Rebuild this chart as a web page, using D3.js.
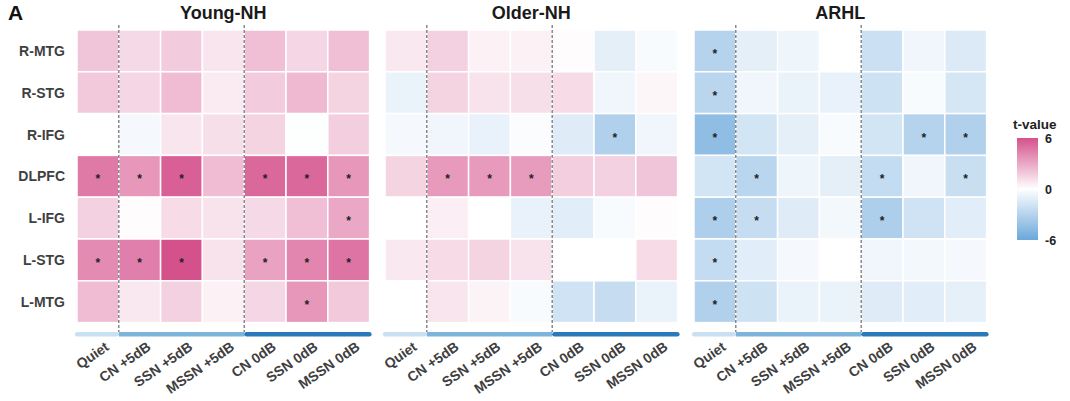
<!DOCTYPE html>
<html lang="en">
<head>
    <meta charset="UTF-8">
    <title>t-value heatmaps</title>
    <script src="https://d3js.org/d3.v7.min.js"></script>
    <style>
        body { margin: 0; background: #fff; }
        text { font-family: Arial, "Liberation Sans", Helvetica, sans-serif; }
    </style>
</head>
<body>
    <div id="chart"></div>

    <script>
        // regions (rows) and conditions (columns)
        const regions = ["R-MTG", "R-STG", "R-IFG", "DLPFC", "L-IFG", "L-STG", "L-MTG"];
        const conditions = ["Quiet", "CN +5dB", "SSN +5dB", "MSSN +5dB", "CN 0dB", "SSN 0dB", "MSSN 0dB"];
        const groups = ["Young-NH", "Older-NH", "ARHL"];

        // t-values, one row per region
        const youngNH = [
            [2.0, 1.3, 1.8, 0.9, 2.2, 1.4, 2.2],
            [1.9, 1.4, 2.3, 0.7, 1.8, 2.4, 1.5],
            [0.0, -0.4, 0.9, 1.1, 1.5, -0.1, 1.7],
            [4.6, 3.6, 5.5, 2.3, 5.2, 5.2, 3.6],
            [1.6, 0.1, 1.2, 1.0, 1.3, 2.2, 3.0],
            [4.0, 4.4, 6.0, 1.0, 3.2, 4.2, 4.8],
            [2.3, 0.8, 1.6, 0.5, 1.4, 3.6, 1.9]
        ];
        const olderNH = [
            [0.8, 1.6, 0.5, 0.5, 0.1, -1.1, -0.3],
            [-0.8, 1.5, 1.0, 1.1, 1.2, -0.6, 0.3],
            [-0.4, -0.6, -0.9, -0.2, -1.3, -3.2, -0.6],
            [1.5, 3.5, 3.5, 3.4, 1.7, 1.6, 2.0],
            [0.0, 0.6, 0.0, -0.9, -1.2, -0.3, 0.1],
            [0.8, 1.2, 1.5, 1.0, 0.0, 0.0, 1.2],
            [0.0, 0.9, 0.4, -0.3, -1.9, -2.3, -0.8]
        ];
        const arhl = [
            [-3.0, -1.1, -0.7, 0.0, -2.1, -0.6, -1.4],
            [-2.8, -0.6, -0.8, -0.9, -2.0, -0.3, -1.7],
            [-4.5, -1.8, -1.1, -0.3, -1.8, -3.0, -3.2],
            [-1.8, -2.8, -0.7, -1.1, -2.4, -0.6, -2.2],
            [-3.3, -2.3, -1.3, -0.5, -3.3, -1.9, -1.2],
            [-2.4, -1.2, -0.4, 0.0, -0.6, -0.5, -0.4],
            [-3.2, -2.0, -0.8, -0.8, -1.3, -1.2, -1.0]
        ];

        // significance marks (1 = *)
        const youngSig = [
            [0, 0, 0, 0, 0, 0, 0],
            [0, 0, 0, 0, 0, 0, 0],
            [0, 0, 0, 0, 0, 0, 0],
            [1, 1, 1, 0, 1, 1, 1],
            [0, 0, 0, 0, 0, 0, 1],
            [1, 1, 1, 0, 1, 1, 1],
            [0, 0, 0, 0, 0, 1, 0]
        ];
        const olderSig = [
            [0, 0, 0, 0, 0, 0, 0],
            [0, 0, 0, 0, 0, 0, 0],
            [0, 0, 0, 0, 0, 1, 0],
            [0, 1, 1, 1, 0, 0, 0],
            [0, 0, 0, 0, 0, 0, 0],
            [0, 0, 0, 0, 0, 0, 0],
            [0, 0, 0, 0, 0, 0, 0]
        ];
        const arhlSig = [
            [1, 0, 0, 0, 0, 0, 0],
            [1, 0, 0, 0, 0, 0, 0],
            [1, 0, 0, 0, 0, 1, 1],
            [0, 1, 0, 0, 1, 0, 1],
            [1, 1, 0, 0, 1, 0, 0],
            [1, 0, 0, 0, 0, 0, 0],
            [1, 0, 0, 0, 0, 0, 0]
        ];

        // condition blocks shown as the coloured bar under each panel
        const blocks = [
            { name: "Quiet", from: 0, to: 0, color: "#c8e0f1" },
            { name: "+5dB", from: 1, to: 3, color: "#7db4dc" },
            { name: "0dB", from: 4, to: 6, color: "#2a7aba" }
        ];
        const legendTicks = [6, 0, -6];

        const panels = [
            { title: groups[0], values: youngNH, sig: youngSig, x0: 77 },
            { title: groups[1], values: olderNH, sig: olderSig, x0: 385 },
            { title: groups[2], values: arhl, sig: arhlSig, x0: 694 }
        ];

        const width = 1070, height = 401;
        const cell = 41.8, gridTop = 30;

        const svg = d3.select("#chart")
            .append("svg")
            .attr("width", width)
            .attr("height", height);

        const color = d3.scaleLinear()
            .domain([-6, 0, 6])
            .range(["#6aa7db", "#ffffff", "#d5518c"])
            .clamp(true);

        const y = d3.scaleBand()
            .domain(regions)
            .range([gridTop, gridTop + cell * regions.length]);

        // panel label
        svg.append("text")
            .attr("x", 8)
            .attr("y", 20)
            .attr("font-size", 21)
            .attr("font-weight", "bold")
            .attr("fill", "#111")
            .text("A");

        panels.forEach((p, pi) => {
            const x = d3.scaleBand()
                .domain(conditions)
                .range([p.x0, p.x0 + cell * conditions.length]);

            const g = svg.append("g");

            // title
            g.append("text")
                .attr("x", p.x0 + cell * conditions.length / 2)
                .attr("y", 19)
                .attr("text-anchor", "middle")
                .attr("font-size", 18)
                .attr("font-weight", "bold")
                .attr("fill", "#1a1a1a")
                .text(p.title);

            const cells = [];
            p.values.forEach((row, ri) => row.forEach((v, ci) => {
                cells.push({ region: regions[ri], cond: conditions[ci], v: v, s: p.sig[ri][ci] });
            }));

            g.selectAll("rect.cell")
                .data(cells)
                .join("rect")
                .attr("class", "cell")
                .attr("x", d => x(d.cond))
                .attr("y", d => y(d.region))
                .attr("width", x.bandwidth())
                .attr("height", y.bandwidth())
                .attr("fill", d => color(d.v))
                .attr("stroke", "#fff")
                .attr("stroke-width", 1.5);

            g.selectAll("text.star")
                .data(cells.filter(d => d.s))
                .join("text")
                .attr("class", "star")
                .attr("x", d => x(d.cond) + x.bandwidth() / 2)
                .attr("y", d => y(d.region) + y.bandwidth() / 2 + 7)
                .attr("text-anchor", "middle")
                .attr("font-size", 12)
                .attr("font-weight", "bold")
                .attr("fill", "#222")
                .text("*");

            // dashed separators between blocks
            [1, 4].forEach(ci => {
                g.append("line")
                    .attr("x1", x(conditions[ci]))
                    .attr("x2", x(conditions[ci]))
                    .attr("y1", 25)
                    .attr("y2", 332)
                    .attr("stroke", "#777")
                    .attr("stroke-width", 1.3)
                    .attr("stroke-dasharray", "3,2");
            });

            // block bars
            blocks.forEach(b => {
                const bx0 = x(conditions[b.from]) - (b.from === 0 ? 2 : 0);
                const bx1 = x(conditions[b.to]) + x.bandwidth() + (b.to === 6 ? 2 : 0);
                g.append("rect")
                    .attr("x", bx0)
                    .attr("y", 332)
                    .attr("width", bx1 - bx0)
                    .attr("height", 4.5)
                    .attr("rx", b.from === 0 || b.to === 6 ? 2.2 : 0)
                    .attr("fill", b.color);
            });

            // row labels only on the first panel
            if (pi === 0) {
                g.selectAll("text.row")
                    .data(regions)
                    .join("text")
                    .attr("class", "row")
                    .attr("x", p.x0 - 12)
                    .attr("y", d => y(d) + y.bandwidth() / 2 + 5)
                    .attr("text-anchor", "end")
                    .attr("font-size", 14)
                    .attr("font-weight", "bold")
                    .attr("fill", "#3f3f3f")
                    .text(d => d);
            }

            // rotated column labels
            g.selectAll("text.col")
                .data(conditions)
                .join("text")
                .attr("class", "col")
                .attr("text-anchor", "end")
                .attr("font-size", 14)
                .attr("font-weight", "bold")
                .attr("fill", "#3f3f3f")
                .attr("transform", d => `translate(${x(d) + x.bandwidth() / 2 + 12},${349}) rotate(-35)`)
                .text(d => d);
        });

        // colour legend
        const defs = svg.append("defs");
        const grad = defs.append("linearGradient")
            .attr("id", "tgrad")
            .attr("x1", 0).attr("x2", 0)
            .attr("y1", 0).attr("y2", 1);
        d3.range(0, 1.0001, 0.1).forEach(t => {
            grad.append("stop")
                .attr("offset", t)
                .attr("stop-color", color(6 - 12 * t));
        });

        const ly = d3.scaleLinear().domain([6, -6]).range([138, 240]);

        svg.append("text")
            .attr("x", 1013)
            .attr("y", 129)
            .attr("font-size", 13.5)
            .attr("font-weight", "bold")
            .attr("fill", "#222")
            .text("t-value");

        svg.append("rect")
            .attr("x", 1017)
            .attr("y", ly(6))
            .attr("width", 21)
            .attr("height", ly(-6) - ly(6))
            .attr("fill", "url(#tgrad)");

        svg.selectAll("text.lt")
            .data(legendTicks)
            .join("text")
            .attr("class", "lt")
            .attr("x", 1045)
            .attr("y", d => ly(d) + 4.5)
            .attr("font-size", 12.5)
            .attr("font-weight", "bold")
            .attr("fill", "#222")
            .text(d => d);
    </script>
</body>
</html>
